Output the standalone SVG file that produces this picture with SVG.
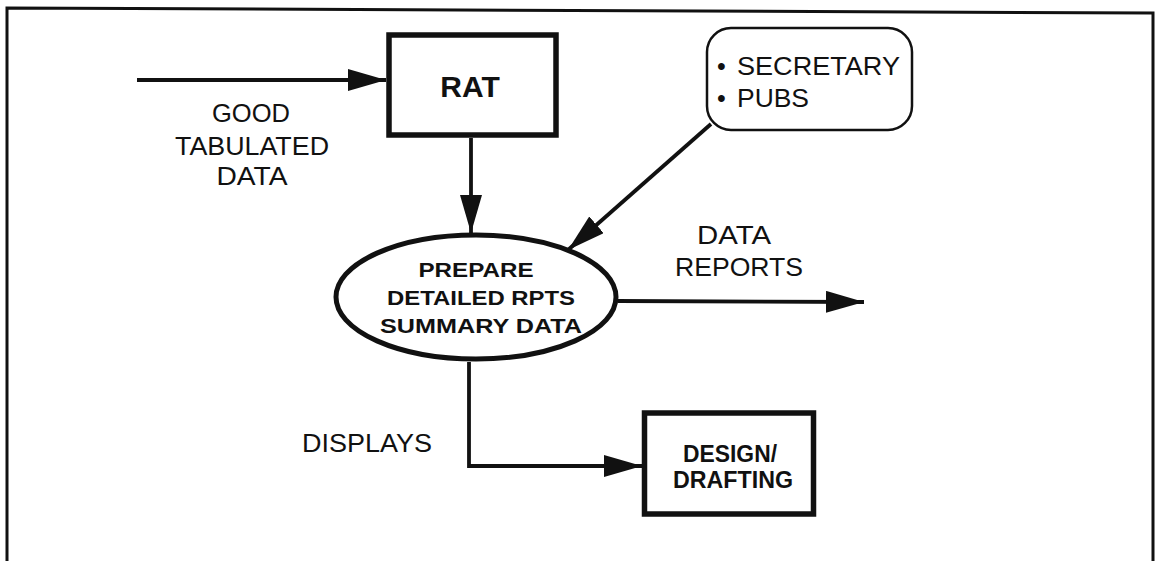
<svg xmlns="http://www.w3.org/2000/svg" width="1160" height="561" viewBox="0 0 1160 561">
  <style>
    .t { font-family: "Liberation Sans", Arial, sans-serif; font-size: 25px; fill: #111; }
    .b { font-family: "Liberation Sans", Arial, sans-serif; font-weight: bold; fill: #111; }
    .box { fill: #fff; stroke: #111; stroke-width: 5.5; }
    .line { fill: none; stroke: #111; stroke-width: 3.8; }
  </style>
  <defs>
    <marker id="arr" markerUnits="userSpaceOnUse" markerWidth="40" markerHeight="24" refX="38" refY="11" orient="auto">
      <path d="M0,0 L38,11 L0,22 Z" fill="#111"/>
    </marker>
  </defs>
  <rect width="1160" height="561" fill="#fff"/>
  <polyline points="7,561 7,8 1153,13 1153,561" fill="none" stroke="#111" stroke-width="3"/>

  <g id="connectors">
    <line class="line" x1="137" y1="80" x2="386" y2="80" marker-end="url(#arr)"/>
    <line class="line" x1="471" y1="138" x2="471" y2="233" marker-end="url(#arr)"/>
    <line class="line" x1="711" y1="124" x2="568" y2="250" marker-end="url(#arr)"/>
    <line class="line" x1="618" y1="301" x2="864" y2="302" marker-end="url(#arr)"/>
    <polyline class="line" points="469,362 469,466 642,466" marker-end="url(#arr)"/>
  </g>

  <g id="label-good">
    <text class="t" x="251" y="122" text-anchor="middle" textLength="78" lengthAdjust="spacingAndGlyphs">GOOD</text>
    <text class="t" x="252" y="155" text-anchor="middle" textLength="154" lengthAdjust="spacingAndGlyphs">TABULATED</text>
    <text class="t" x="252" y="185" text-anchor="middle" textLength="71" lengthAdjust="spacingAndGlyphs">DATA</text>
  </g>

  <g id="rat">
    <rect class="box" x="389" y="35" width="167" height="100"/>
    <text class="b" x="470" y="97" font-size="30" text-anchor="middle">RAT</text>
  </g>

  <g id="secretary">
    <rect x="707" y="28" width="205" height="102" rx="24" fill="#fff" stroke="#111" stroke-width="2.5"/>
    <text class="t" x="717" y="75">•</text>
    <text class="t" x="737" y="75" textLength="163" lengthAdjust="spacingAndGlyphs">SECRETARY</text>
    <text class="t" x="717" y="107">•</text>
    <text class="t" x="737" y="107" textLength="72" lengthAdjust="spacingAndGlyphs">PUBS</text>
  </g>

  <g id="prepare">
    <ellipse cx="476" cy="297" rx="140" ry="62" fill="#fff" stroke="#111" stroke-width="5"/>
    <text class="b" x="476" y="277" font-size="21" text-anchor="middle" textLength="115" lengthAdjust="spacingAndGlyphs">PREPARE</text>
    <text class="b" x="481" y="305" font-size="21" text-anchor="middle" textLength="188" lengthAdjust="spacingAndGlyphs">DETAILED RPTS</text>
    <text class="b" x="481" y="333" font-size="21" text-anchor="middle" textLength="202" lengthAdjust="spacingAndGlyphs">SUMMARY DATA</text>
  </g>

  <g id="label-reports">
    <text class="t" x="734" y="244" text-anchor="middle" textLength="74" lengthAdjust="spacingAndGlyphs">DATA</text>
    <text class="t" x="739" y="276" text-anchor="middle" textLength="128" lengthAdjust="spacingAndGlyphs">REPORTS</text>
  </g>

  <g id="label-displays">
    <text class="t" x="302" y="452" textLength="130" lengthAdjust="spacingAndGlyphs">DISPLAYS</text>
  </g>

  <g id="design">
    <rect class="box" x="644.5" y="413" width="169" height="101"/>
    <text class="b" x="730" y="462" font-size="24" text-anchor="middle" textLength="94" lengthAdjust="spacingAndGlyphs">DESIGN/</text>
    <text class="b" x="733" y="488" font-size="24" text-anchor="middle" textLength="120" lengthAdjust="spacingAndGlyphs">DRAFTING</text>
  </g>
</svg>
